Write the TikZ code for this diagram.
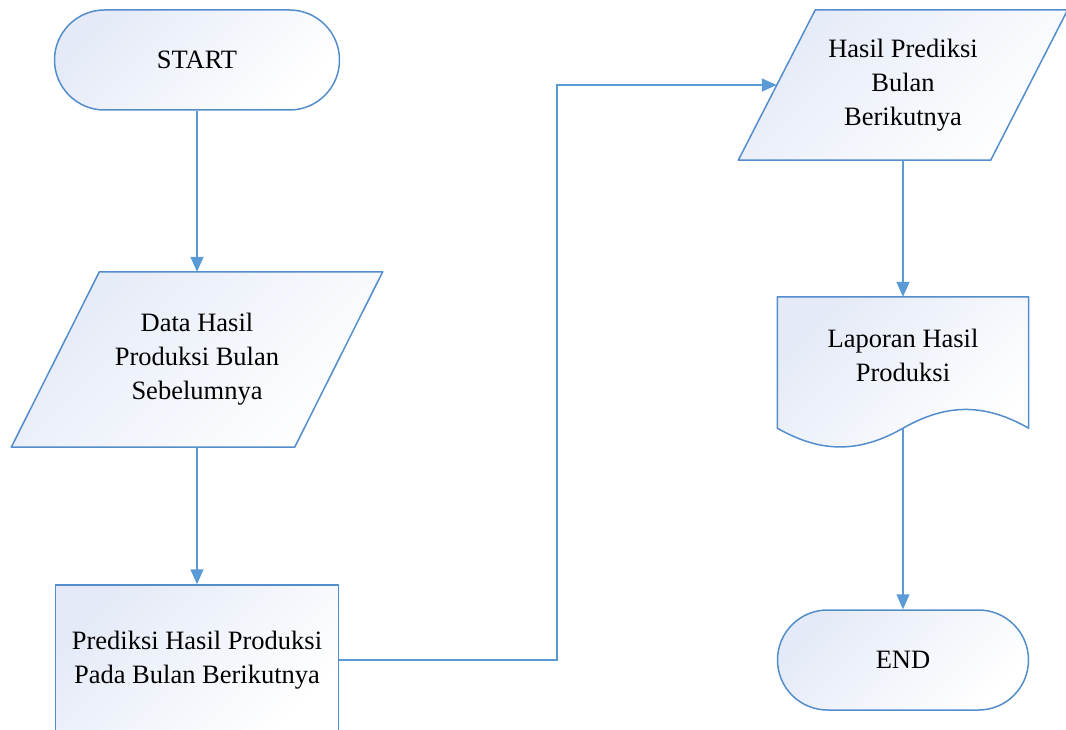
\documentclass[tikz,border=0pt]{standalone}
\usepackage{fontspec}
\setmainfont{Liberation Serif}
\usetikzlibrary{arrows.meta,calc}
\definecolor{edgeblue}{RGB}{84,141,204}
\definecolor{linkblue}{RGB}{91,155,213}
\definecolor{shadeblue}{RGB}{228,234,247}
\tikzset{
  soft/.style={top color=shadeblue, bottom color=white, shading angle=45},
  shapeline/.style={draw=edgeblue, line width=1.5pt, line join=round},
  term/.style={shapeline, soft, rectangle, rounded corners=50pt,
    minimum height=100pt, align=center, inner sep=0pt},
  proc/.style={shapeline, soft, rectangle, align=center, inner sep=0pt},
  holder/.style={draw=none, rectangle, inner sep=0pt, align=center},
  link/.style={draw=linkblue, line width=1.6pt,
    -{Triangle[length=15pt,width=13pt]}},
}
\begin{document}
\begin{tikzpicture}[x=1pt,y=-1pt,font=\fontsize{26.5}{34}\selectfont]
\useasboundingbox (0,0) rectangle (1066,730);

% left column
\node[term, minimum width=285pt] (start) at (197,60) {START};

\node[holder, minimum width=283pt, minimum height=175pt] (data) at (197,359.5) {};
\path[shapeline, soft]
  ([xshift=44pt]data.north west) -- ([xshift=44pt]data.north east)
  -- ([xshift=-44pt]data.south east) -- ([xshift=-44pt]data.south west) -- cycle;
\node[holder] (datatext) at (data.center) {Data Hasil\\Produksi Bulan\\Sebelumnya};

\node[proc, minimum width=283pt, minimum height=150pt] (pred) at (197,660)
  {Prediksi Hasil Produksi\\Pada Bulan Berikutnya};

% right column
\node[holder, minimum width=252pt, minimum height=150pt] (out) at (903,85) {};
\path[shapeline, soft]
  ([xshift=38.5pt]out.north west) -- ([xshift=38.5pt]out.north east)
  -- ([xshift=-38.5pt]out.south east) -- ([xshift=-38.5pt]out.south west) -- cycle;
\node[holder] (outtext) at (out.center) {Hasil Prediksi\\Bulan\\Berikutnya};

\node[holder, minimum width=251pt, minimum height=131pt] (doc) at (903,362.5) {};
\path[shapeline, soft]
  (doc.south west) -- (doc.north west) -- (doc.north east) -- (doc.south east)
  .. controls ($(doc.south east)+(-44,-25)$) and ($(doc.south)+(44,-25)$) .. (doc.south)
  .. controls ($(doc.south)+(-44,25)$) and ($(doc.south west)+(44,25)$) .. (doc.south west)
  -- cycle;
\node[holder] (doctext) at (903,355) {Laporan Hasil\\Produksi};

\node[term, minimum width=251pt] (end) at (903,660) {END};

% connectors
\draw[link] (start.south) -- (data.north);
\draw[link] (data.south) -- (pred.north);
\coordinate (bend) at (557,85);
\draw[link] (pred.east) -| (bend) -- (out.west);
\draw[link] (out.south) -- (doc.north);
\draw[link] (doc.south) -- (end.north);
\end{tikzpicture}
\end{document}
